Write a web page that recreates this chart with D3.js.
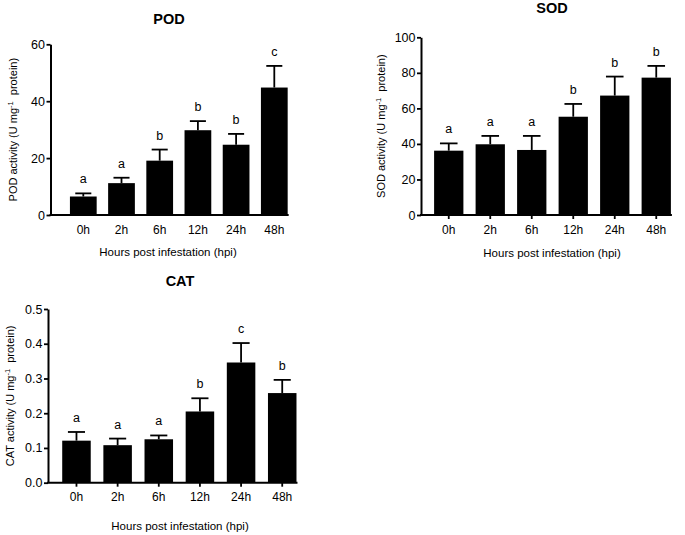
<!DOCTYPE html>
<html>
<head>
<meta charset="utf-8">
<script src="https://cdn.jsdelivr.net/npm/d3@7"></script>
<style>
  body { margin: 0; background: #fff; }
  text { font-family: Arial, "Liberation Sans", sans-serif; fill: #000; }
</style>
</head>
<body>
<div id="chart"></div>
<script>
// values (mean, error bar above mean, significance letter)
var hours = ["0h", "2h", "6h", "12h", "24h", "48h"];

var podMean = [6.5, 11.2, 19.1, 29.8, 24.7, 44.8];
var podErr = [1.1, 1.9, 3.9, 3.2, 3.8, 7.6];
var podLetters = ["a", "a", "b", "b", "b", "c"];
var podTicks = [0, 20, 40, 60];

var sodMean = [36.2, 39.8, 36.6, 55.3, 67.2, 77.3];
var sodErr = [4.1, 4.7, 7.9, 7.2, 10.7, 6.6];
var sodLetters = ["a", "a", "a", "b", "b", "b"];
var sodTicks = [0, 20, 40, 60, 80, 100];

var catMean = [0.121, 0.108, 0.125, 0.205, 0.346, 0.258];
var catErr = [0.025, 0.019, 0.011, 0.038, 0.056, 0.038];
var catLetters = ["a", "a", "a", "b", "c", "b"];
var catTicks = [0, 0.1, 0.2, 0.3, 0.4, 0.5];

var xTitle = "Hours post infestation (hpi)";

var svg = d3.select("#chart").append("svg")
  .attr("width", 685).attr("height", 535);

// panel layout
var panels = [
  { name: "POD", mean: podMean, err: podErr, letters: podLetters, ticks: podTicks, fmt: d3.format("d"),
    max: 60, axisX: 50.5, band: [64.2, 293.4], pad: 0.3, y0: 215, y1: 44.3, xTick: 0,
    titleX: 169, titleY: 24, yLabX: 13, xLabX: 168, xLabY: 256 },
  { name: "SOD", mean: sodMean, err: sodErr, letters: sodLetters, ticks: sodTicks, fmt: d3.format("d"),
    max: 100, axisX: 421, band: [428, 677], pad: 0.294, y0: 215, y1: 37.3, xTick: 4,
    titleX: 552, titleY: 13, yLabX: 381, xLabX: 552, xLabY: 257 },
  { name: "CAT", mean: catMean, err: catErr, letters: catLetters, ticks: catTicks, fmt: d3.format(".1f"),
    max: 0.5, axisX: 48, band: [55.9, 302.8], pad: 0.307, y0: 482.7, y1: 309, xTick: 4,
    titleX: 180, titleY: 286, yLabX: 10, xLabX: 180, xLabY: 530 }
];

panels.forEach(function (p) {
  var g = svg.append("g");
  var x = d3.scaleBand().domain(hours).range(p.band)
    .paddingInner(p.pad).paddingOuter(p.pad / 2);
  var y = d3.scaleLinear().domain([0, p.max]).range([p.y0, p.y1]);
  var bw = x.bandwidth();
  var capW = bw * 0.6;

  // bars
  g.selectAll("rect.bar").data(hours).enter().append("rect")
    .attr("x", function (d) { return x(d); })
    .attr("y", function (d, i) { return y(p.mean[i]); })
    .attr("width", bw)
    .attr("height", function (d, i) { return p.y0 - y(p.mean[i]); })
    .attr("fill", "#000");

  // error bars (upper only)
  g.selectAll("line.err").data(hours).enter().append("line")
    .attr("x1", function (d) { return x(d) + bw / 2; })
    .attr("x2", function (d) { return x(d) + bw / 2; })
    .attr("y1", function (d, i) { return y(p.mean[i]); })
    .attr("y2", function (d, i) { return y(p.mean[i] + p.err[i]); })
    .attr("stroke", "#000").attr("stroke-width", 1.8);
  g.selectAll("line.cap").data(hours).enter().append("line")
    .attr("x1", function (d) { return x(d) + bw / 2 - capW / 2; })
    .attr("x2", function (d) { return x(d) + bw / 2 + capW / 2; })
    .attr("y1", function (d, i) { return y(p.mean[i] + p.err[i]); })
    .attr("y2", function (d, i) { return y(p.mean[i] + p.err[i]); })
    .attr("stroke", "#000").attr("stroke-width", 1.8);

  // significance letters
  g.selectAll("text.sig").data(hours).enter().append("text")
    .attr("x", function (d) { return x(d) + bw / 2; })
    .attr("y", function (d, i) { return y(p.mean[i] + p.err[i]) - 10; })
    .attr("text-anchor", "middle").style("font-size", "12.5px")
    .text(function (d, i) { return p.letters[i]; });

  // y axis
  var ya = g.append("g").attr("transform", "translate(" + p.axisX + ",0)")
    .call(d3.axisLeft(y).tickValues(p.ticks).tickFormat(p.fmt)
      .tickSize(4).tickSizeOuter(0).tickPadding(1.5));
  ya.select(".domain").attr("stroke-width", 2);
  ya.selectAll(".tick line").attr("stroke-width", 1.8);
  ya.selectAll("text").style("font-size", "12.5px")
    .style("font-family", "Arial, 'Liberation Sans', sans-serif");

  // x axis
  var xa = g.append("g").attr("transform", "translate(0," + p.y0 + ")")
    .call(d3.axisBottom(x).tickSize(p.xTick).tickPadding(10 - p.xTick));
  xa.select(".domain").remove();
  xa.selectAll(".tick line").attr("stroke-width", 1.8);
  xa.selectAll("text").style("font-size", "12px")
    .style("font-family", "Arial, 'Liberation Sans', sans-serif");
  g.append("line")
    .attr("x1", p.axisX - 1).attr("x2", x(hours[hours.length - 1]) + bw + 1)
    .attr("y1", p.y0).attr("y2", p.y0)
    .attr("stroke", "#000").attr("stroke-width", 2);

  // titles
  g.append("text").attr("x", p.titleX).attr("y", p.titleY)
    .attr("text-anchor", "middle").style("font-size", "14.5px").style("font-weight", "bold")
    .text(p.name);
  g.append("text").attr("x", p.xLabX).attr("y", p.xLabY)
    .attr("text-anchor", "middle").style("font-size", "11.5px")
    .text(xTitle);

  var yl = g.append("text")
    .attr("transform", "translate(" + (p.yLabX + 4) + "," + ((p.y0 + p.y1) / 2) + ") rotate(-90)")
    .attr("text-anchor", "middle").style("font-size", "11px");
  yl.append("tspan").text(p.name + " activity (U mg");
  yl.append("tspan").attr("dy", -4).style("font-size", "7.5px").text("-1");
  yl.append("tspan").attr("dy", 4).text("\u00a0\u00a0protein)");
});
</script>
</body>
</html>
